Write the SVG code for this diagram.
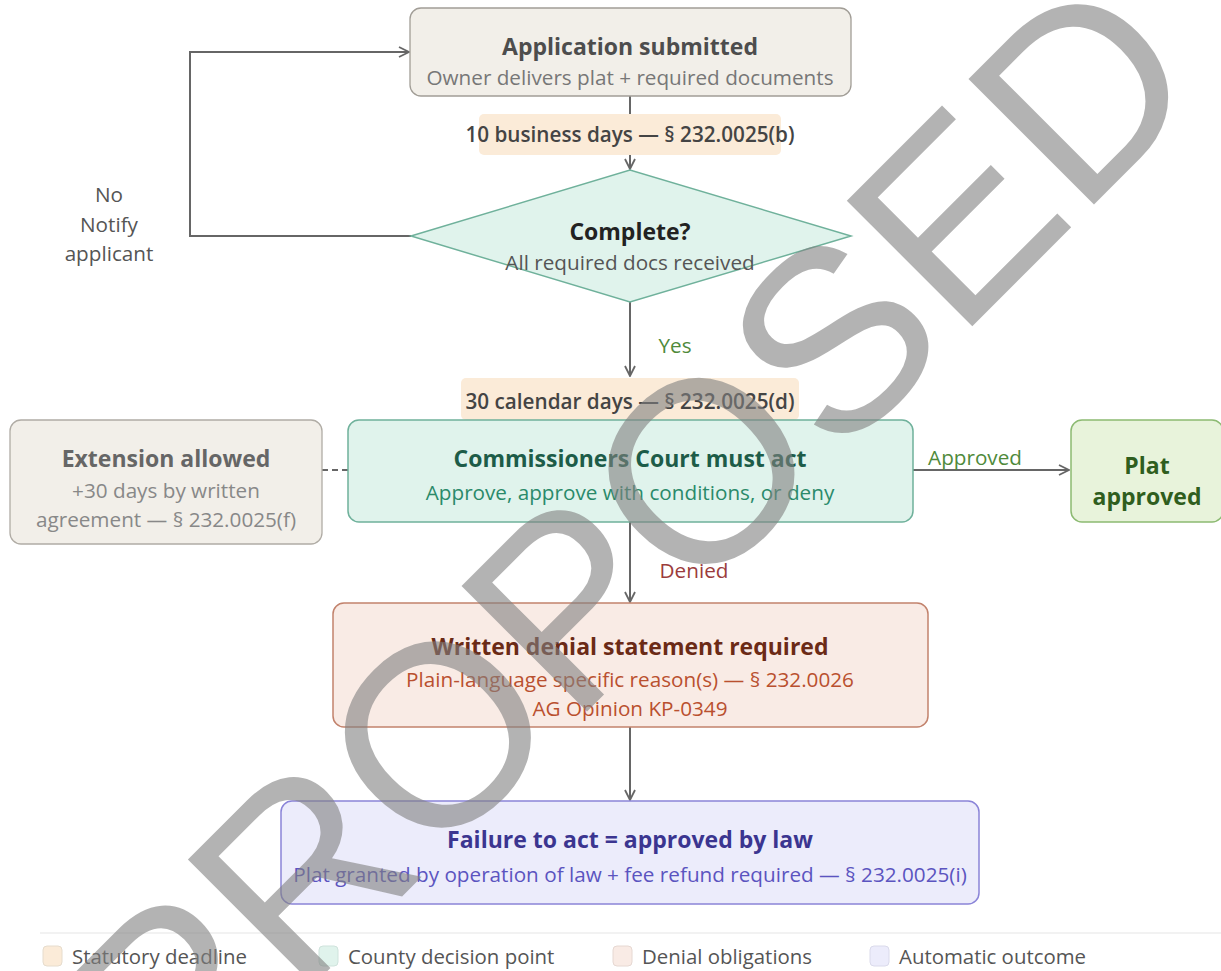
<svg xmlns="http://www.w3.org/2000/svg" width="1221" height="971" viewBox="0 0 1221 971">
<defs>
<marker id="arr" viewBox="0 0 12 12" refX="11" refY="6" markerWidth="12" markerHeight="12" markerUnits="userSpaceOnUse" orient="auto">
<path d="M1,1 L11,6 L1,11" fill="none" stroke="#666" stroke-width="1.8"/>
</marker>
<style>
text{font-family:"Segoe UI","Open Sans","Noto Sans",sans-serif;text-anchor:middle}
.t{font-size:23px;font-weight:700}
.s{font-size:20.7px}
.lab{font-size:20.7px;font-weight:600;fill:#444}
.edge{fill:none;stroke:#666;stroke-width:2}
.neutral{fill:#f2efe9;stroke:#a19d96;stroke-width:1.3}
.dec{fill:#e0f3ec;stroke:#6fb19b;stroke-width:1.5}
.dl{fill:#fbebd8}
.leg{font-size:20.4px;fill:#555;text-anchor:start}
.wm{font-family:"Liberation Sans",Arial,sans-serif;font-size:258px;fill:#808080;fill-opacity:0.6;text-anchor:middle}
</style>
</defs>
<rect width="1221" height="971" fill="#fff"/>

<g id="connectors">
<path class="edge" d="M630,96 V169" marker-end="url(#arr)"/>
<path class="edge" d="M411,236 H190 V52 H409" marker-end="url(#arr)"/>
<path class="edge" d="M630,302 V376" marker-end="url(#arr)"/>
<path class="edge" d="M913,470 H1069" marker-end="url(#arr)"/>
<path class="edge" d="M322,470 H348" stroke-dasharray="6,4"/>
<path class="edge" d="M630,522 V602" marker-end="url(#arr)"/>
<path class="edge" d="M630,727 V800" marker-end="url(#arr)"/>
<text class="s" x="109" y="202" fill="#555">No</text>
<text class="s" x="109" y="232" fill="#555">Notify</text>
<text class="s" x="109" y="261" fill="#555">applicant</text>
<text class="s" x="675" y="353" fill="#4f8a3b">Yes</text>
<text class="s" x="975" y="465" fill="#4f8a3b">Approved</text>
<text class="s" x="694" y="578" fill="#9b3c3c">Denied</text>
</g>

<g id="deadline1">
<rect class="dl" x="479" y="114" width="302" height="41" rx="5"/>
<text class="lab" x="630" y="142">10 business days — § 232.0025(b)</text>
</g>
<g id="deadline2">
<rect class="dl" x="461" y="378" width="338" height="42" rx="5"/>
<text class="lab" x="630" y="409">30 calendar days — § 232.0025(d)</text>
</g>

<g id="application">
<rect class="neutral" x="410" y="8" width="441" height="88" rx="11"/>
<text class="t" x="630" y="55" fill="#4d4d4d">Application submitted</text>
<text class="s" x="630" y="85" fill="#777">Owner delivers plat + required documents</text>
</g>

<g id="complete">
<polygon class="dec" points="411,236 630,170 851,236 630,302"/>
<text class="t" x="630" y="240" fill="#222">Complete?</text>
<text class="s" x="630" y="270" fill="#555">All required docs received</text>
</g>

<g id="extension">
<rect fill="#f2efe9" stroke="#b0aca5" stroke-width="1.3" x="10" y="420" width="312" height="124" rx="11"/>
<text class="t" x="166" y="467" fill="#666">Extension allowed</text>
<text class="s" x="166" y="498" fill="#888">+30 days by written</text>
<text class="s" x="166" y="527" fill="#888">agreement — § 232.0025(f)</text>
</g>

<g id="court">
<rect class="dec" x="348" y="420" width="565" height="102" rx="11"/>
<text class="t" x="630" y="467" fill="#1d5c48">Commissioners Court must act</text>
<text class="s" x="630" y="500" fill="#2a8a6a">Approve, approve with conditions, or deny</text>
</g>

<g id="platApproved">
<rect fill="#e8f3db" stroke="#8cba72" stroke-width="1.5" x="1071" y="420" width="152" height="102" rx="11"/>
<text class="t" x="1147" y="474" fill="#2f5e1e">Plat</text>
<text class="t" x="1147" y="505" fill="#2f5e1e">approved</text>
</g>

<g id="denial">
<rect fill="#f9ebe5" stroke="#c2826c" stroke-width="1.5" x="333" y="603" width="595" height="124" rx="11"/>
<text class="t" x="630" y="655" fill="#6b2a16">Written denial statement required</text>
<text class="s" x="630" y="687" fill="#b9502f">Plain-language specific reason(s) — § 232.0026</text>
<text class="s" x="630" y="716" fill="#b9502f">AG Opinion KP-0349</text>
</g>

<g id="failure">
<rect fill="#ececfb" stroke="#8a84d8" stroke-width="1.5" x="281" y="801" width="698" height="103" rx="11"/>
<text class="t" x="630" y="848" fill="#3b3590">Failure to act = approved by law</text>
<text class="s" x="630" y="882" fill="#5b54c0">Plat granted by operation of law + fee refund required — § 232.0025(i)</text>
</g>

<g id="legend">
<line x1="40" y1="933" x2="1221" y2="933" stroke="#eee" stroke-width="1.5"/>
<rect x="43" y="946" width="19" height="20" rx="4" fill="#fbebd8" stroke="#e6dccd"/>
<text class="leg" x="72" y="964">Statutory deadline</text>
<rect x="319" y="946" width="19" height="20" rx="4" fill="#e0f3ec" stroke="#cfe3dc"/>
<text class="leg" x="348" y="964">County decision point</text>
<rect x="613" y="946" width="19" height="20" rx="4" fill="#f9ebe5" stroke="#e6d8d2"/>
<text class="leg" x="642" y="964">Denial obligations</text>
<rect x="870" y="946" width="19" height="20" rx="4" fill="#ececfb" stroke="#dadaeb"/>
<text class="leg" x="899" y="964">Automatic outcome</text>
</g>

<g id="watermark">
<text class="wm" transform="translate(628,539) rotate(-45)" x="0" y="93">PROPOSED</text>
</g>
</svg>
